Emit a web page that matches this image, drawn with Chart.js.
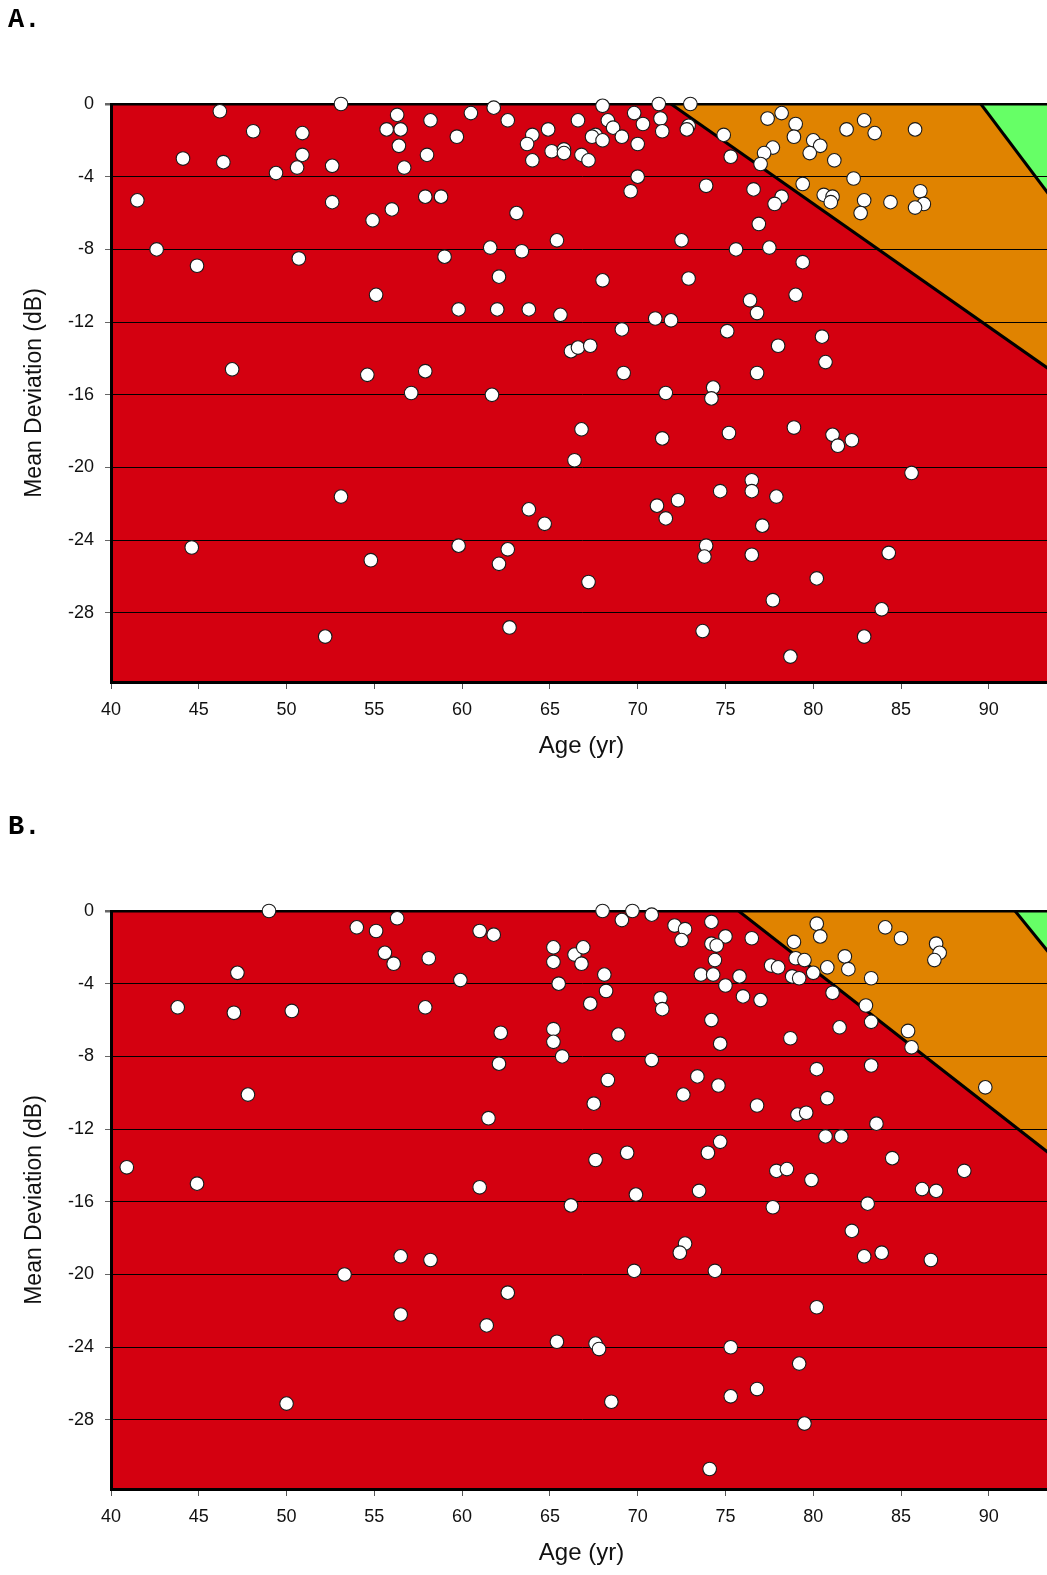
<!DOCTYPE html>
<html>
<head>
<meta charset="utf-8">
<script src="https://cdn.jsdelivr.net/npm/chart.js@4.4.1/dist/chart.umd.min.js"></script>
<style>
  html, body { margin: 0; padding: 0; background: #fff; overflow: hidden; }
  body { width: 1047px; height: 1575px; position: relative; }
  .panel { position: absolute; left: 0; width: 1052px; height: 768px; }
  .tag { position: absolute; left: 8px; font: bold 27px "Liberation Mono", "Courier New", monospace; color: #000; line-height: 1; }
</style>
</head>
<body>
<div class="panel" style="top:0"><canvas id="chartA"></canvas></div>
<div class="tag" style="top:7px">A.</div>
<div class="panel" style="top:807px"><canvas id="chartB"></canvas></div>
<div class="tag" style="top:814px">B.</div>

<script>
// ejes
const ticksX = [40, 45, 50, 55, 60, 65, 70, 75, 80, 85, 90];
const ticksY = [0, -4, -8, -12, -16, -20, -24, -28];
const rangoEdad = [40, 93.6];
const rangoMD = [-31.8, 0];

// panel A: edad (años) y desviación media (dB)
const edadA = [
  46.2, 53.1, 56.3, 48.1, 50.9, 55.7, 56.5, 56.4, 44.1, 46.4, 50.9, 50.6, 49.4, 52.6, 56.7,
  41.5, 52.6, 56.0, 54.9, 42.6, 44.9, 50.7, 55.1, 46.9, 54.6,
  58.2, 60.5, 61.8, 62.6, 59.7, 58.0, 57.9, 58.8, 63.1, 66.6, 64.9, 64.0, 63.7, 64.0, 65.1,
  65.8, 65.8, 66.8, 67.2, 68.0, 68.3, 68.6, 67.6, 67.4, 68.0, 69.1, 69.8, 70.3, 70.0, 71.2,
  71.3, 71.4, 73.0, 72.9, 72.8, 74.9, 75.3, 70.0, 69.6, 73.9, 61.6, 63.4, 65.4, 59.0, 62.1,
  68.0, 72.5, 75.6, 72.9, 59.8, 62.0, 63.8, 65.6, 71.0, 71.9, 69.1, 75.1, 66.2, 66.6, 67.3,
  57.9, 69.2, 61.7, 71.6, 74.3, 74.2,
  77.4, 78.2, 79.0, 78.9, 80.0, 80.4, 79.8, 81.9, 82.9, 83.5, 85.8, 81.2, 77.7, 77.2, 77.0,
  82.3, 79.4, 76.6, 78.2, 77.8, 80.6, 81.1, 81.0, 82.9, 82.7, 84.4, 86.1, 86.3, 85.8, 76.9,
  77.5, 79.4, 79.0, 76.4, 76.8, 80.5, 78.0, 80.7, 76.8,
  57.1, 66.8, 66.4, 53.1, 63.8, 64.7, 44.6, 54.8, 59.8, 62.6, 62.1, 52.2, 62.7,
  71.4, 75.2, 78.9, 81.1, 82.2, 81.4, 85.6, 76.5, 76.5, 77.9, 74.7, 72.3, 71.1, 71.6, 77.1,
  73.9, 73.8, 76.5, 84.3, 67.2, 80.2, 77.7, 83.9, 73.7, 82.9, 78.7
];
const mdA = [
  -0.4, 0, -0.6, -1.5, -1.6, -1.4, -1.4, -2.3, -3.0, -3.2, -2.8, -3.5, -3.8, -3.4, -3.5,
  -5.3, -5.4, -5.8, -6.4, -8.0, -8.9, -8.5, -10.5, -14.6, -14.9,
  -0.9, -0.5, -0.2, -0.9, -1.8, -2.8, -5.1, -5.1, -6.0, -0.9, -1.4, -1.7, -2.2, -3.1, -2.6,
  -2.5, -2.7, -2.8, -3.1, -0.1, -0.9, -1.3, -1.7, -1.8, -2.0, -1.8, -0.5, -1.1, -2.2, 0,
  -0.8, -1.5, 0, -1.2, -1.4, -1.7, -2.9, -4.0, -4.8, -4.5, -7.9, -8.1, -7.5, -8.4, -9.5,
  -9.7, -7.5, -8.0, -9.6, -11.3, -11.3, -11.3, -11.6, -11.8, -11.9, -12.4, -12.5, -13.6, -13.4, -13.3,
  -14.7, -14.8, -16.0, -15.9, -15.6, -16.2,
  -0.8, -0.5, -1.1, -1.8, -2.0, -2.3, -2.7, -1.4, -0.9, -1.6, -1.4, -3.1, -2.4, -2.7, -3.3,
  -4.1, -4.4, -4.7, -5.1, -5.5, -5.0, -5.1, -5.4, -5.3, -6.0, -5.4, -4.8, -5.5, -5.7, -6.6,
  -7.9, -8.7, -10.5, -10.8, -11.5, -12.8, -13.3, -14.2, -14.8,
  -15.9, -17.9, -19.6, -21.6, -22.3, -23.1, -24.4, -25.1, -24.3, -24.5, -25.3, -29.3, -28.8,
  -18.4, -18.1, -17.8, -18.2, -18.5, -18.8, -20.3, -20.7, -21.3, -21.6, -21.3, -21.8, -22.1, -22.8, -23.2,
  -24.3, -24.9, -24.8, -24.7, -26.3, -26.1, -27.3, -27.8, -29.0, -29.3, -30.4
];

// panel B
const edadB = [
  49.0, 54.0, 55.1, 56.3, 55.6, 56.1, 47.2, 43.8, 47.0, 50.3, 57.9, 58.1, 47.8, 40.9, 44.9,
  61.0, 61.8, 59.9, 65.2, 65.2, 66.4, 66.9, 66.8, 65.5, 68.1, 68.2, 67.3, 68.0, 69.1, 69.7,
  70.8, 72.1, 72.7, 72.5, 74.2, 75.0, 74.2, 74.5, 74.4, 73.6, 74.3, 75.0, 75.8, 76.0,
  62.2, 62.1, 65.2, 65.2, 65.7, 68.9, 71.3, 71.4, 74.2, 74.7, 70.8, 68.3, 73.4, 74.6, 72.6,
  67.5, 61.5, 74.7, 74.0, 69.4, 67.6, 61.0, 69.9, 73.5,
  76.5, 80.2, 80.4, 78.9, 84.1, 85.0, 87.0, 87.2, 86.9, 79.0, 79.5, 77.6, 78.0, 81.8, 82.0,
  80.8, 80.0, 78.8, 79.2, 83.3, 81.1, 77.0, 83.0, 83.3, 81.5, 78.7, 85.4, 85.6, 80.2, 83.3,
  89.8, 76.8, 80.8, 79.1, 79.6, 83.6, 80.7, 81.6, 84.5, 77.9, 78.5, 79.9, 88.6, 86.2, 87.0,
  66.2, 56.5, 58.2, 53.3, 62.6, 56.5, 61.4, 65.4, 50.0,
  77.7, 83.1, 82.2, 72.7, 72.4, 82.9, 83.9, 86.7, 69.8, 74.4, 80.2, 67.6, 67.8, 75.3, 79.2,
  76.8, 75.3, 68.5, 79.5, 74.1
];
const mdB = [
  0, -0.9, -1.1, -0.4, -2.3, -2.9, -3.4, -5.3, -5.6, -5.5, -5.3, -2.6, -10.1, -14.1, -15.0,
  -1.1, -1.3, -3.8, -2.0, -2.8, -2.4, -2.0, -2.9, -4.0, -3.5, -4.4, -5.1, 0, -0.5, 0,
  -0.2, -0.8, -1.0, -1.6, -0.6, -1.4, -1.8, -1.9, -2.7, -3.5, -3.5, -4.1, -3.6, -4.7,
  -6.7, -8.4, -6.5, -7.2, -8.0, -6.8, -4.8, -5.4, -6.0, -7.3, -8.2, -9.3, -9.1, -9.6, -10.1,
  -10.6, -11.4, -12.7, -13.3, -13.3, -13.7, -15.2, -15.6, -15.4,
  -1.5, -0.7, -1.4, -1.7, -0.9, -1.5, -1.8, -2.3, -2.7, -2.6, -2.7, -3.0, -3.1, -2.5, -3.2,
  -3.1, -3.4, -3.6, -3.7, -3.7, -4.5, -4.9, -5.2, -6.1, -6.4, -7.0, -6.6, -7.5, -8.7, -8.5,
  -9.7, -10.7, -10.3, -11.2, -11.1, -11.7, -12.4, -12.4, -13.6, -14.3, -14.2, -14.8, -14.3, -15.3, -15.4,
  -16.2, -19.0, -19.2, -20.0, -21.0, -22.2, -22.8, -23.7, -27.1,
  -16.3, -16.1, -17.6, -18.3, -18.8, -19.0, -18.8, -19.2, -19.8, -19.8, -21.8, -23.8, -24.1, -24.0, -24.9,
  -26.3, -26.7, -27.0, -28.2, -30.7
];

const limiteA1Edad = [71.9, 93.6], limiteA1MD = [0, -14.7];
const limiteA2Edad = [89.55, 93.6], limiteA2MD = [0, -5.2];
const limiteB1Edad = [75.75, 93.6], limiteB1MD = [0, -13.45];
const limiteB2Edad = [91.5, 93.6], limiteB2MD = [0, -2.5];

const ROJO = '#d40010';
const NARANJA = '#e08300';
const VERDE = '#66ff66';
const FUENTE = '"Liberation Sans", Arial, sans-serif';

Chart.defaults.font.family = FUENTE;

function pares(xs, ys) {
  return xs.map((x, i) => ({ x: x, y: ys[i] }));
}

function crearGrafico(id, edades, mds, l1Edad, l1MD, l2Edad, l2MD) {
  return new Chart(document.getElementById(id), {
    type: 'scatter',
    data: {
      datasets: [
        {
          type: 'scatter',
          data: pares(edades, mds),
          order: 0,
          clip: false,
          pointRadius: 6.8,
          pointBackgroundColor: '#ffffff',
          pointBorderColor: '#1a1a1a',
          pointBorderWidth: 1.1
        },
        {
          type: 'line',
          data: pares(l2Edad, l2MD),
          order: 1,
          fill: 'end',
          backgroundColor: VERDE,
          borderColor: '#000',
          borderWidth: 3,
          pointRadius: 0
        },
        {
          type: 'line',
          data: pares(l1Edad, l1MD),
          order: 2,
          fill: 'end',
          backgroundColor: NARANJA,
          borderColor: '#000',
          borderWidth: 3,
          pointRadius: 0
        },
        {
          type: 'line',
          data: pares(rangoEdad, [0, 0]),
          order: 3,
          fill: 'start',
          backgroundColor: ROJO,
          borderColor: 'transparent',
          borderWidth: 1,
          pointRadius: 0
        }
      ]
    },
    options: {
      responsive: true,
      maintainAspectRatio: false,
      animation: false,
      events: [],
      layout: { autoPadding: false, padding: { top: 104, right: 0, left: 0, bottom: 0 } },
      plugins: {
        legend: { display: false },
        tooltip: { enabled: false },
        filler: { drawTime: 'beforeDraw' }
      },
      scales: {
        x: {
          type: 'linear',
          min: rangoEdad[0],
          max: rangoEdad[1],
          afterBuildTicks: s => { s.ticks = ticksX.map(v => ({ value: v })); },
          afterFit: s => { s.height = 86; s.paddingRight = 0; s.paddingLeft = 0; },
          border: { display: true, color: '#000', width: 3 },
          grid: { drawOnChartArea: false, drawTicks: true, tickLength: 7, color: '#555', lineWidth: 1 },
          ticks: { font: { size: 18 }, color: '#111', padding: 10 },
          title: {
            display: true,
            text: 'Age (yr)',
            font: { size: 24 },
            color: '#111',
            padding: { top: 0, bottom: 7 }
          }
        },
        y: {
          type: 'linear',
          min: rangoMD[0],
          max: rangoMD[1],
          afterBuildTicks: s => { s.ticks = ticksY.map(v => ({ value: v })); },
          afterFit: s => { s.width = 111; },
          border: { display: true, color: '#000', width: 3 },
          grid: {
            color: '#000',
            tickColor: '#666',
            lineWidth: ctx => (ctx.tick && ctx.tick.value === 0 ? 2.5 : 1),
            drawTicks: true,
            tickLength: 6
          },
          ticks: { font: { size: 18 }, color: '#111', padding: 11 },
          title: {
            display: true,
            text: 'Mean Deviation (dB)',
            font: { size: 23 },
            color: '#111',
            padding: { top: 21, bottom: 0 }
          }
        }
      }
    }
  });
}

crearGrafico('chartA', edadA, mdA, limiteA1Edad, limiteA1MD, limiteA2Edad, limiteA2MD);
crearGrafico('chartB', edadB, mdB, limiteB1Edad, limiteB1MD, limiteB2Edad, limiteB2MD);
</script>
</body>
</html>
